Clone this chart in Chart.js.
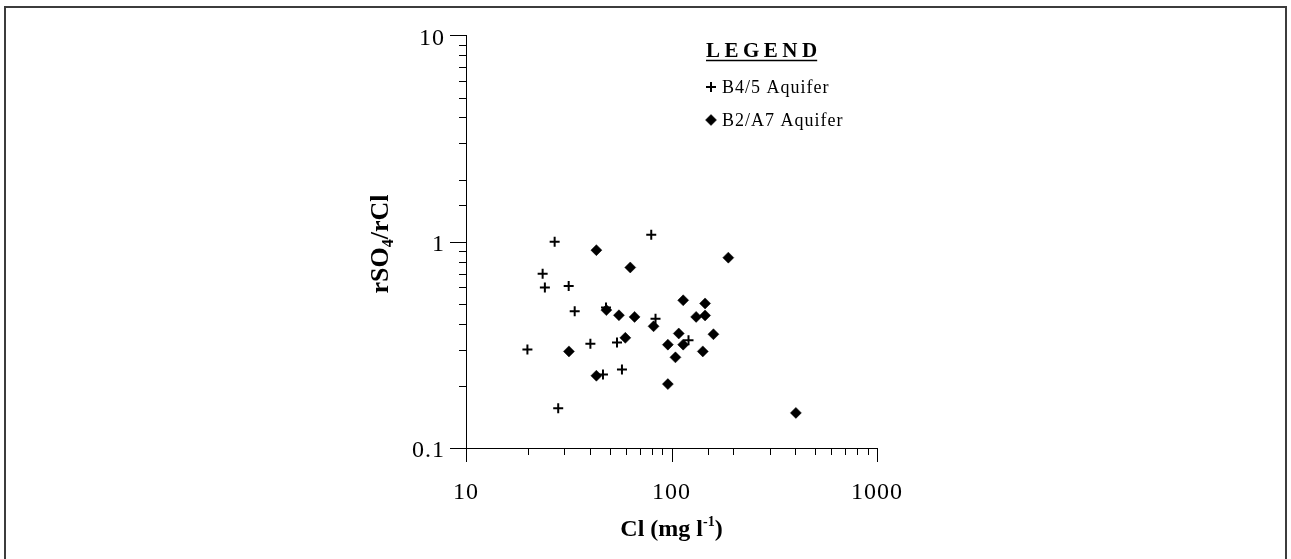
<!DOCTYPE html>
<html><head><meta charset="utf-8">
<script src="https://cdn.jsdelivr.net/npm/chart.js@4.4.1/dist/chart.umd.min.js"></script>
<style>
html,body{margin:0;padding:0;background:#fff;overflow:hidden}
#wrap{position:relative;width:1291px;height:559px}
#frame{position:absolute;left:4px;top:6px;width:1283px;height:600px;border:2px solid #3c3c3c;box-sizing:border-box}
canvas{position:absolute;left:0;top:0}
</style></head><body>
<div id="wrap"><div id="frame"></div><canvas id="c" width="1291" height="559"></canvas></div>
<script>
// ---- data ----
const seriesNames = ['B4/5 Aquifer', 'B2/A7 Aquifer'];
const b45Cl    = [27, 23.6, 24.2, 31.6, 33.8, 19.9, 40.3, 28.1, 79.7, 46.4, 57.4, 54.3, 83.6, 121, 48];
const b45Ratio = [1.0, 0.70, 0.60, 0.61, 0.46, 0.30, 0.32, 0.156, 1.08, 0.227, 0.24, 0.325, 0.423, 0.333, 0.48];
const b2a7Cl    = [43.1, 63, 114, 48.2, 55.5, 66.1, 81.8, 31.7, 59.6, 43.1, 108.5, 96, 114, 104.5, 96, 189, 145.7, 131.8, 145.7, 160, 142, 403];
const b2a7Ratio = [0.91, 0.75, 0.52, 0.466, 0.44, 0.432, 0.389, 0.294, 0.342, 0.224, 0.359, 0.317, 0.317, 0.275, 0.204, 0.837, 0.502, 0.432, 0.439, 0.356, 0.294, 0.148];
const xTickLabels = ['10', '100', '1000'];
const yTickLabels = ['0.1', '1', '10'];
const xRange = [10, 1000];
const yRange = [0.1, 10];

const SERIF = '"Liberation Serif", "Times New Roman", serif';

function isDecade(v){ const l = Math.log10(v); return Math.abs(l - Math.round(l)) < 1e-6; }
function fmt(v){ const l = Math.round(Math.log10(v)); return l < 0 ? (Math.pow(10,l)).toFixed(-l) : String(Math.pow(10,l)); }

const tickPlugin = {
  id: 'logTicks',
  beforeDraw(chart){
    chart.ctx.letterSpacing = '1px';
  },
  beforeDatasetsDraw(chart){
    chart.ctx.letterSpacing = '0px';
  },
  afterDraw(chart){
    const ctx = chart.ctx;
    ctx.letterSpacing = '0px';
    const xs = chart.scales.x, ys = chart.scales.y;
    const ca = chart.chartArea;
    ctx.save();
    ctx.strokeStyle = '#000';
    ctx.lineWidth = 1;
    xs.ticks.forEach(t => {
      const px = Math.round(xs.getPixelForValue(t.value)) + 0.5;
      const len = isDecade(t.value) ? 14 : 7;
      ctx.beginPath(); ctx.moveTo(px, ca.bottom); ctx.lineTo(px, ca.bottom + len); ctx.stroke();
    });
    ys.ticks.forEach(t => {
      const py = Math.round(ys.getPixelForValue(t.value)) + 0.5;
      const len = isDecade(t.value) ? 16 : 7;
      ctx.beginPath(); ctx.moveTo(ca.left, py); ctx.lineTo(ca.left - len, py); ctx.stroke();
    });
    ctx.restore();

    // axis titles
    ctx.save();
    ctx.fillStyle = '#000';
    ctx.textBaseline = 'alphabetic';
    const big = 'bold 24px ' + SERIF, small = 'bold 14px ' + SERIF;
    ctx.font = big; const w1 = ctx.measureText('Cl (mg l').width;
    ctx.font = small; const w2 = ctx.measureText('-1').width;
    ctx.font = big; const w3 = ctx.measureText(')').width;
    const cx = (ca.left + ca.right) / 2;
    let x0 = cx - (w1 + w2 + w3) / 2; const by = 536;
    ctx.font = big; ctx.fillText('Cl (mg l', x0, by);
    ctx.font = small; ctx.fillText('-1', x0 + w1, by - 10);
    ctx.font = big; ctx.fillText(')', x0 + w1 + w2, by);

    ctx.translate(388, 244);
    ctx.rotate(-Math.PI / 2);
    const ybig = 'bold 26px ' + SERIF, ysmall = 'bold 16px ' + SERIF;
    ctx.font = ybig; const a1 = ctx.measureText('rSO').width;
    ctx.font = ysmall; const a2 = ctx.measureText('4').width;
    ctx.font = ybig; const a3 = ctx.measureText('/rCl').width;
    let y0 = -(a1 + a2 + a3) / 2;
    ctx.font = ybig; ctx.fillText('rSO', y0, 0);
    ctx.font = ysmall; ctx.fillText('4', y0 + a1, 5);
    ctx.font = ybig; ctx.fillText('/rCl', y0 + a1 + a2, 0);
    ctx.restore();

    // legend
    ctx.save();
    ctx.fillStyle = '#000'; ctx.strokeStyle = '#000';
    const lx = 706;
    ctx.font = 'bold 21px ' + SERIF;
    ctx.letterSpacing = '4.5px';
    ctx.textBaseline = 'alphabetic';
    ctx.fillText('LEGEND', lx, 57);
    const lw = ctx.measureText('LEGEND').width - 4.5;
    ctx.lineWidth = 1.5;
    ctx.beginPath(); ctx.moveTo(lx, 60.5); ctx.lineTo(lx + lw, 60.5); ctx.stroke();
    ctx.font = '18px ' + SERIF;
    ctx.letterSpacing = '1px';
    chart.data.datasets.forEach((ds, i) => {
      const yy = 87 + i * 33;
      const opts = { pointStyle: ds.pointStyle, radius: ds.pointRadius, borderWidth: ds.borderWidth, rotation: 0 };
      ctx.fillStyle = '#000'; ctx.strokeStyle = '#000'; ctx.lineWidth = ds.borderWidth;
      Chart.helpers.drawPoint(ctx, opts, lx + 5, yy);
      ctx.fillStyle = '#000';
      ctx.textBaseline = 'middle';
      ctx.fillText(ds.label, lx + 16, yy + 1);
    });
    ctx.restore();
  }
};

const chart = new Chart(document.getElementById('c'), {
  type: 'scatter',
  data: {
    datasets: [
      { label: seriesNames[0], data: b45Cl.map((x, i) => ({ x, y: b45Ratio[i] })),
        pointStyle: 'cross', pointRadius: 5, borderWidth: 2, borderColor: '#000', backgroundColor: '#000' },
      { label: seriesNames[1], data: b2a7Cl.map((x, i) => ({ x, y: b2a7Ratio[i] })),
        pointStyle: 'rectRot', pointRadius: 5.5, borderWidth: 0.5, borderColor: '#000', backgroundColor: '#000' }
    ]
  },
  options: {
    responsive: false, animation: false, devicePixelRatio: 1,
    layout: { padding: { left: 0, right: 414, top: 35, bottom: 0 } },
    plugins: { legend: { display: false }, tooltip: { enabled: false } },
    scales: {
      x: {
        type: 'logarithmic', min: xRange[0], max: xRange[1],
        grid: { display: false, drawTicks: false },
        border: { display: true, color: '#000', width: 1 },
        ticks: {
          autoSkip: false, maxRotation: 0, color: '#000', padding: 30,
          font: { family: SERIF, size: 24 },
          callback: (v) => { if (!isDecade(v)) return ''; const s = fmt(v); return xTickLabels.includes(s) ? s : ''; }
        },
        afterFit: (s) => { s.height = 111; }
      },
      y: {
        type: 'logarithmic', min: yRange[0], max: yRange[1],
        grid: { display: false, drawTicks: false },
        border: { display: true, color: '#000', width: 1 },
        ticks: {
          autoSkip: false, color: '#000', padding: 21, labelOffset: 3,
          font: { family: SERIF, size: 24 },
          callback: (v) => { if (!isDecade(v)) return ''; const s = fmt(v); return yTickLabels.includes(s) ? s : ''; }
        },
        afterFit: (s) => { s.width = 466; }
      }
    }
  },
  plugins: [tickPlugin]
});
</script>
</body></html>
